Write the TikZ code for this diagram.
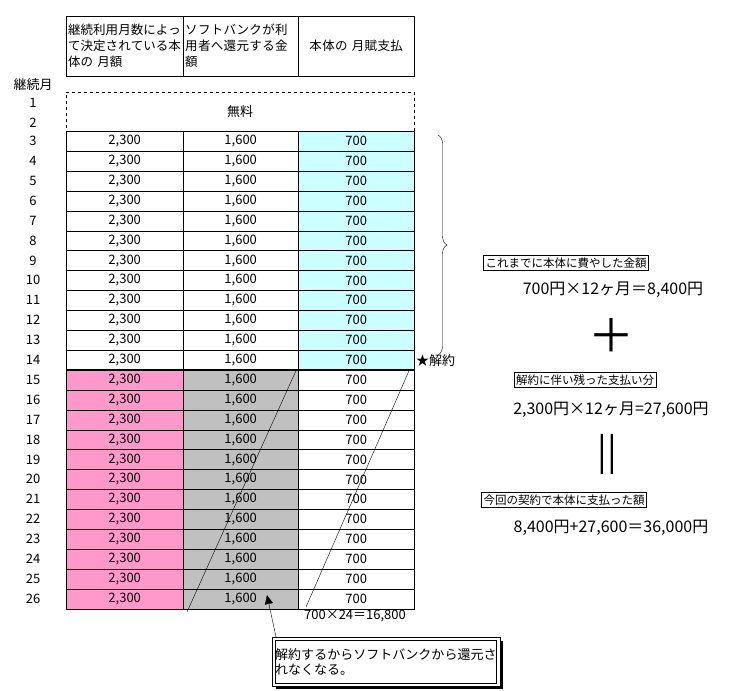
\documentclass[tikz,border=0pt]{standalone}
\usepackage{fontspec}
\setmainfont{Noto Sans CJK JP}
\XeTeXlinebreaklocale "ja"
\XeTeXlinebreakskip=0pt plus 1pt
\usetikzlibrary{positioning,decorations.pathreplacing,arrows.meta}
\definecolor{paycyan}{RGB}{204,255,255}
\definecolor{paypink}{RGB}{255,153,204}
\definecolor{paygray}{RGB}{192,192,192}
\tikzset{
  cell/.style  = {draw, minimum height=19.9pt, inner sep=0pt, anchor=north west},
  cellA/.style = {cell, minimum width=117pt},
  cellB/.style = {cell, minimum width=115pt},
  cellC/.style = {cell, minimum width=116pt},
  head/.style  = {draw, anchor=north west, minimum height=60pt,
                  align=left, inner sep=2pt, font=\fontsize{12.5}{16}\selectfont},
  note/.style  = {draw, inner sep=2pt, font=\fontsize{11.5}{13}\selectfont},
  calc/.style  = {font=\fontsize{16}{18}\selectfont}
}
\begin{document}
\begin{tikzpicture}[x=1pt,y=-1pt,font=\fontsize{13}{15}\selectfont]
\useasboundingbox (0,0) rectangle (746,690);

% header of the table
\node[head, minimum width=117pt, text width=113pt] (h1) at (66,16) {継続利用月数によって決定されている本体の 月額};
\node[head, minimum width=115pt, text width=111pt] (h2) at (183,16) {ソフトバンクが利用者へ還元する金額};
\node[head, minimum width=116pt, text width=112pt, align=center] (h3) at (298,16) {本体の 月賦支払};
\node (lbl) at (33,85) {継続月};

% free months
\node[draw, dashed, anchor=north west, minimum width=348pt, minimum height=39pt] (free) at (66,92) {無料};
\node (m1) at (33,103) {1};
\node (m2) at (33,123) {2};

% monthly rows
\foreach \i in {3,...,26} {
  \pgfmathsetmacro{\yy}{131+(\i-3)*19.9}
  \ifnum\i<15
    \node[cellA] (a\i) at (66,\yy) {2,300};
    \node[cellB] (b\i) at (183,\yy) {1,600};
    \node[cellC, fill=paycyan] (c\i) at (298,\yy) {700};
  \else
    \node[cellA, fill=paypink] (a\i) at (66,\yy) {2,300};
    \node[cellB, fill=paygray] (b\i) at (183,\yy) {1,600};
    \node[cellC] (c\i) at (298,\yy) {700};
  \fi
  \node (m\i) at (33,\yy+10) {\i};
}
\draw[thick] (a15.north west) rectangle (c26.south east);
\draw[thick] (b15.north west) rectangle (b26.south east);

% strike lines
\draw (b15.north east) ++(-2,0) -- (187,612);
\draw (c15.north east) ++(-5,0) -- (306,607);
\node[anchor=north, inner sep=1pt] (sum) at (355,609) {700×24＝16,800};

% cancellation
\draw[decorate, decoration={brace, amplitude=9pt}] (438,135) -- (438,355);
\node[anchor=west, inner sep=1pt] (cancel) at (415,361) {★解約};

% right hand calculation
\node[note] (n1) at (566,263) {これまでに本体に費やした金額};
\node[calc] (t1) at (613,290) {700円×12ヶ月＝8,400円};
\node[font=\fontsize{46}{46}\selectfont] (plus) at (611,335) {＋};
\node[note] (n2) at (585,380) {解約に伴い残った支払い分};
\node[calc] (t2) at (611,410) {2,300円×12ヶ月=27,600円};
\node[font=\fontsize{36}{36}\selectfont] (eq) at (607,454) {||};
\node[note] (n3) at (564,500) {今回の契約で本体に支払った額};
\node[calc] (t3) at (611,528) {8,400円+27,600＝36,000円};

% callout
\fill (276,641) rectangle (503,689);
\node[draw, fill=white, anchor=north west, minimum width=227pt, minimum height=49pt,
      text width=222pt, align=left, inner sep=3pt] (call) at (272,637) {解約するからソフトバンクから還元されなくなる。};
\draw (275,640) rectangle (496,683);
\coordinate (tip) at (267,595);
\draw[-{Triangle[length=9pt,width=8pt]}] (call.north west) ++(4,0) -- (tip);
\end{tikzpicture}
\end{document}
